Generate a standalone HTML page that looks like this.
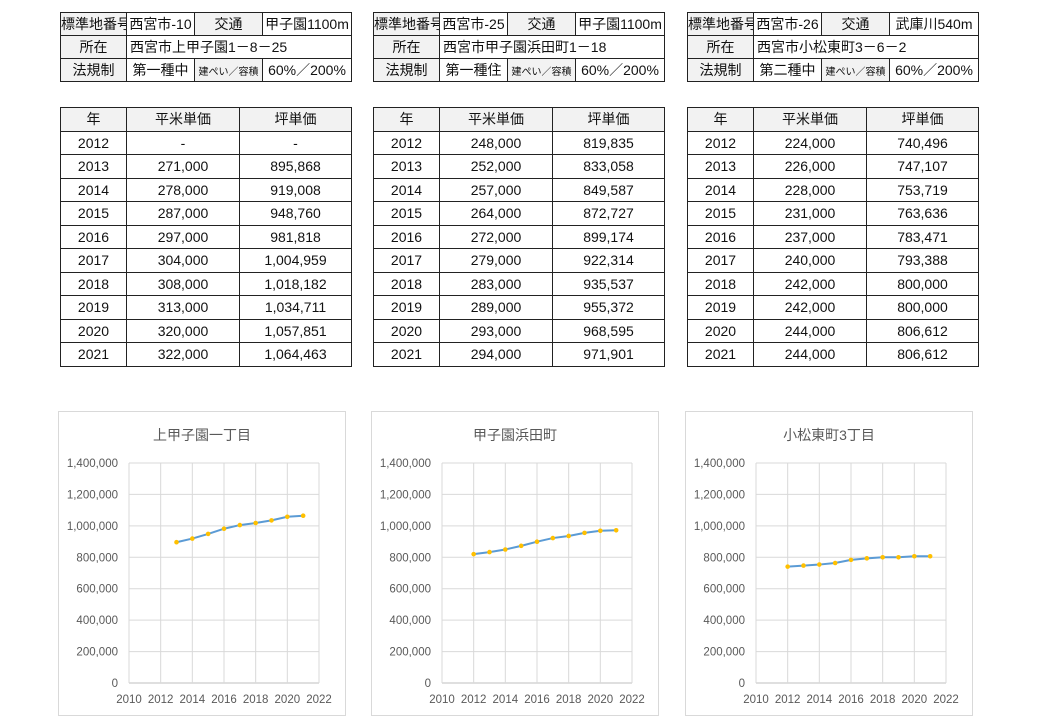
<!DOCTYPE html>
<html><head><meta charset="utf-8">
<style>
body{margin:0;width:1040px;height:720px;background:#fff;position:relative;overflow:hidden;font-family:"Liberation Sans","Noto Sans CJK JP",sans-serif;color:#111}
table{position:absolute;border-collapse:collapse;table-layout:fixed;font-size:14px}
td{border:1.5px solid #222;text-align:center;padding:0;white-space:nowrap;overflow:hidden}
td.g{background:#f2f2f2}
td.l{text-align:left;padding-left:3px}
td.s{font-size:10px}
.info td{height:22px}
.data td{height:22.5px}
.chart{position:absolute;border:1px solid #d9d9d9;width:286px;height:303px;top:411px}
svg text{font-family:"Liberation Sans","Noto Sans CJK JP",sans-serif;fill:#595959}
</style></head><body>
<div id="root"></div>
<script>
var names=["西宮市-10","西宮市-25","西宮市-26"];
var access=["甲子園1100m","甲子園1100m","武庫川540m"];
var addrs=["西宮市上甲子園1－8－25","西宮市甲子園浜田町1－18","西宮市小松東町3－6－2"];
var zones=["第一種中","第一種住","第二種中"];
var titles=["上甲子園一丁目","甲子園浜田町","小松東町3丁目"];
var years=[2012,2013,2014,2015,2016,2017,2018,2019,2020,2021];
var sqm1=[null,271000,278000,287000,297000,304000,308000,313000,320000,322000];
var tsubo1=[null,895868,919008,948760,981818,1004959,1018182,1034711,1057851,1064463];
var sqm2=[248000,252000,257000,264000,272000,279000,283000,289000,293000,294000];
var tsubo2=[819835,833058,849587,872727,899174,922314,935537,955372,968595,971901];
var sqm3=[224000,226000,228000,231000,237000,240000,242000,242000,244000,244000];
var tsubo3=[740496,747107,753719,763636,783471,793388,800000,800000,806612,806612];
var xTicks=[2010,2012,2014,2016,2018,2020,2022];
var yTicks=[0,200000,400000,600000,800000,1000000,1200000,1400000];
var sqmAll=[sqm1,sqm2,sqm3],tsuboAll=[tsubo1,tsubo2,tsubo3];
var lefts=[60,373,687];
function fmt(v){return v==null?"-":v.toLocaleString("en-US");}
var body=document.body;
for(var k=0;k<3;k++){
  var L=lefts[k];
  var t=document.createElement("table");
  t.className="info";
  
  
  t.style.left=L+"px";t.style.top="12px";t.style.width="291px";
  t.innerHTML='<colgroup><col style="width:66px"><col style="width:68px"><col style="width:68px"><col style="width:89px"></colgroup>'+
   '<tr><td class="g">標準地番号</td><td>'+names[k]+'</td><td class="g">交通</td><td>'+access[k]+'</td></tr>'+
   '<tr><td class="g">所在</td><td colspan="3" class="l">'+addrs[k]+'</td></tr>'+
   '<tr><td class="g">法規制</td><td>'+zones[k]+'</td><td class="g s">建ぺい／容積</td><td>60%／200%</td></tr>';
  body.appendChild(t);
  var d=document.createElement("table");
  d.className="data";
  
  
  d.style.left=L+"px";d.style.top="107px";d.style.width="291px";
  var h='<colgroup><col style="width:66px"><col style="width:113px"><col style="width:112px"></colgroup><tr><td class="g">年</td><td class="g">平米単価</td><td class="g">坪単価</td></tr>';
  for(var i=0;i<years.length;i++)h+='<tr><td>'+years[i]+'</td><td>'+fmt(sqmAll[k][i])+'</td><td>'+fmt(tsuboAll[k][i])+'</td></tr>';
  d.innerHTML=h;
  body.appendChild(d);
  var c=document.createElement("div");
  c.className="chart";
  
  
  c.style.left=(L-2)+"px";
  var x0=70,x1=260,y0=271,y1=51;
  function xs(v){return x0+(v-2010)/12*(x1-x0);}
  function ys(v){return y0-(v/1400000)*(y0-y1);}
  var s='<svg width="286" height="303" xmlns="http://www.w3.org/2000/svg">';
  s+='<text x="143" y="28" font-size="14" text-anchor="middle">'+titles[k]+'</text>';
  for(var j=0;j<yTicks.length;j++){var yy=ys(yTicks[j]);
    s+='<line x1="'+x0+'" x2="'+x1+'" y1="'+yy+'" y2="'+yy+'" stroke="'+(j==0?'#bfbfbf':'#d9d9d9')+'" stroke-width="1"/>';
    s+='<text x="59" y="'+(yy+4)+'" font-size="11.5" text-anchor="end">'+yTicks[j].toLocaleString("en-US")+'</text>';}
  for(var j=0;j<xTicks.length;j++){var xx=xs(xTicks[j]);
    s+='<line x1="'+xx+'" x2="'+xx+'" y1="'+y1+'" y2="'+y0+'" stroke="#d9d9d9" stroke-width="1"/>';
    s+='<text x="'+xx+'" y="'+(y0+20)+'" font-size="11.5" text-anchor="middle">'+xTicks[j]+'</text>';}
  var pts=[];var ser=tsuboAll[k];
  for(var i=0;i<years.length;i++)if(ser[i]!=null)pts.push([xs(years[i]),ys(ser[i])]);
  s+='<polyline points="'+pts.map(function(p){return p.join(",");}).join(" ")+'" fill="none" stroke="#5b9bd5" stroke-width="2"/>';
  for(var i=0;i<pts.length;i++)s+='<circle cx="'+pts[i][0]+'" cy="'+pts[i][1]+'" r="2.3" fill="#ffc000"/>';
  s+='</svg>';
  c.innerHTML=s;
  body.appendChild(c);
}
</script>
</body></html>
